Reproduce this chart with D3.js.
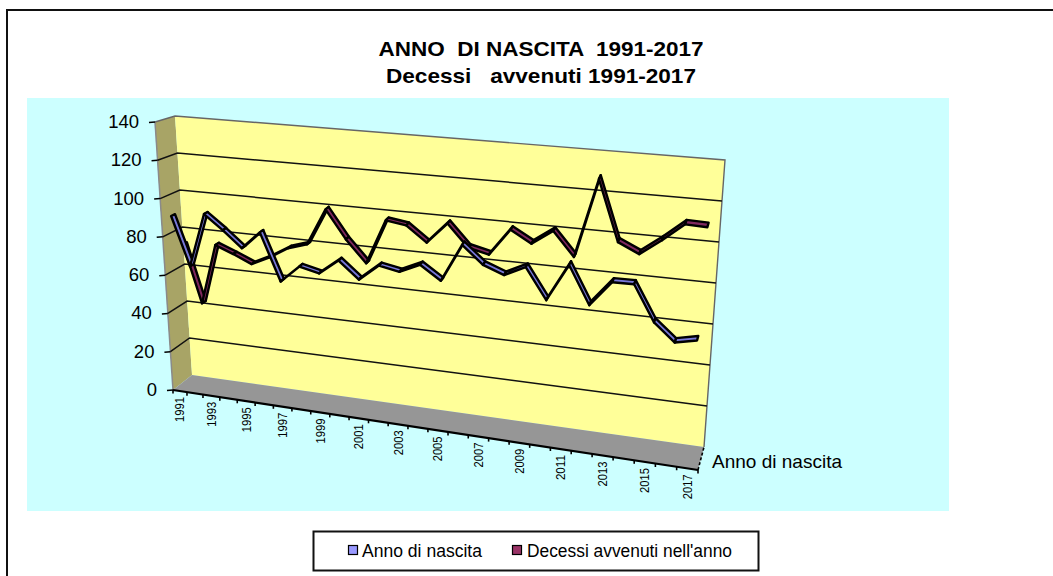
<!DOCTYPE html>
<html>
<head>
<meta charset="utf-8">
<script src="https://cdn.jsdelivr.net/npm/d3@7"></script>
<style>
html,body{margin:0;padding:0;background:#fff;overflow:hidden}
svg{display:block}
text{font-family:"Liberation Sans",Arial,sans-serif;fill:#000;white-space:pre}
</style>
</head>
<body>
<svg id="c" width="1053" height="576"></svg>
<script>
const years = d3.range(1991, 2018);
const yearLabels = years.filter((y, i) => i % 2 === 0);
const valueTicks = [0, 20, 40, 60, 80, 100, 120, 140];
const titleLines = ["ANNO  DI NASCITA  1991-2017", "Decessi   avvenuti 1991-2017"];
const seriesNames = ["Anno di nascita", "Decessi avvenuti nell'anno"];
const depthLabel = "Anno di nascita";
const annoDiNascita = [90.6,65.3,93.7,86.4,78.2,87.6,63.4,72.4,70.1,78.0,69.5,78.0,76.1,81.0,74.2,93.6,84.8,81.0,86.3,71.1,89.9,71.3,84.0,84.3,66.9,58.4,60.8];
const decessiAvvenuti = [73,42.6,74.6,70.9,66.7,71.4,77.3,80.5,99.8,85.3,74.1,97.4,95.9,88.2,99.1,88,85.6,99.3,93.4,101,89.1,129,98.8,94,102,110.9,110.6];

const svg = d3.select("#c");

// perspective box corners of the 3D plot
const box = {
  frontBottom: [[173,390],[698,470]],
  frontTop:    [[155,122],[719,183]],
  backBottom:  [[192,375],[704,447]],
  backTop:     [[175,116],[725,160]]
};
const mix = (a, b, t) => [a[0] + (b[0]-a[0])*t, a[1] + (b[1]-a[1])*t];
const vScale = d3.scaleLinear().domain([0,140]).range([0,1]);
const slot = d3.scaleLinear().domain([-0.5, 26.5]).range([0,1]);
const persp = d3.scalePow().exponent(1.1).domain([0,1]).range([0,1]);
const uOf = i => persp(slot(i));
function project(u, value, depth) {
  const v = vScale(value);
  const fb = mix(box.frontBottom[0], box.frontBottom[1], u);
  const ft = mix(box.frontTop[0], box.frontTop[1], u);
  const bb = mix(box.backBottom[0], box.backBottom[1], u);
  const bt = mix(box.backTop[0], box.backTop[1], u);
  return mix(mix(fb, ft, v), mix(bb, bt, v), depth);
}
const poly = d3.line();
const closed = pts => poly(pts) + "Z";

// frame + background
svg.append("path").attr("d","M7,576V10H1053").attr("fill","none").attr("stroke","#111").attr("stroke-width",2);
svg.append("rect").attr("x",27).attr("y",98).attr("width",922).attr("height",413).attr("fill","#CCFFFF");

// title
svg.selectAll("text.title").data(titleLines).join("text").attr("class","title")
  .attr("x",541).attr("y",(d,i)=>[56,82.5][i]).attr("text-anchor","middle")
  .attr("font-size",21).attr("font-weight","bold")
  .attr("textLength",(d,i)=>[325,310][i]).attr("lengthAdjust","spacingAndGlyphs").text(d=>d);

// walls
const g = svg.append("g");
g.append("path").attr("d",closed([project(0,0,0),project(0,140,0),project(0,140,1),project(0,0,1)]))
  .attr("fill","#A8A466").attr("stroke","none");
g.append("path").attr("d",poly([project(0,0,0),project(0,140,0)])).attr("stroke","#8a8a8a").attr("stroke-width",1.5).attr("fill","none");
g.append("path").attr("d",closed([project(0,0,1),project(1,0,1),project(1,140,1),project(0,140,1)]))
  .attr("fill","#FFFF99").attr("stroke","none");
g.append("path").attr("d",poly([project(0,140,0),project(0,140,1),project(1,140,1),project(1,0,1)]))
  .attr("fill","none").attr("stroke","#666").attr("stroke-width",1.4);
g.append("path").attr("d",closed([project(0,0,0),project(0,0,1),project(1,0,1),project(1,0,0)]))
  .attr("fill","#969696").attr("stroke","none");

// gridlines and value axis
valueTicks.filter(t=>t>0&&t<140).forEach(t=>{
  g.append("path").attr("d",poly([project(0,t,0),project(0,t,1),project(1,t,1)]))
    .attr("fill","none").attr("stroke","#111").attr("stroke-width",1.5);
});
g.append("path").attr("d",poly([project(0,0,0),project(1,0,0)])).attr("stroke","#000").attr("stroke-width",2.2).attr("fill","none");
valueTicks.forEach(t=>{
  const p = project(0,t,0);
  g.append("line").attr("x1",p[0]-6).attr("x2",p[0]).attr("y1",p[1]+0.5).attr("y2",p[1]).attr("stroke","#000").attr("stroke-width",1.5);
  g.append("text").attr("x",p[0]-16).attr("y",p[1]+6).attr("text-anchor","end").attr("font-size",18.5).text(t);
});

// category ticks on floor edge + depth axis
d3.range(0,28).forEach(i=>{
  const p = project(persp(i/27),0,0);
  g.append("line").attr("x1",p[0]).attr("x2",p[0]).attr("y1",p[1]).attr("y2",p[1]+3.5).attr("stroke","#000").attr("stroke-width",1.6);
});
g.append("path").attr("d",poly([project(1,0,0),project(1,0,1)])).attr("stroke","#000").attr("stroke-width",1.6).attr("fill","none").attr("stroke-dasharray","3,2");
years.forEach((y,i)=>{
  if(!yearLabels.includes(y)) return;
  const p = project(uOf(i),0,0);
  g.append("text").attr("font-size",12.5).attr("text-anchor","end")
    .attr("textLength",25).attr("lengthAdjust","spacingAndGlyphs")
    .attr("transform",`translate(${p[0]+4.5},${p[1]+6}) rotate(-90)`).text(y);
});
g.append("text").attr("x",712).attr("y",468).attr("font-size",18.5).attr("textLength",130).attr("lengthAdjust","spacingAndGlyphs").text(depthLabel);

// series ribbons
function ribbon(values, depth, fill) {
  const half = 0.1;
  const s = svg.append("g");
  d3.pairs(values.map((v,i)=>[i,v])).forEach(([a,b])=>{
    const ua=uOf(a[0]), ub=uOf(b[0]);
    s.append("path").attr("d",closed([
      project(ua,a[1],depth-half),project(ub,b[1],depth-half),
      project(ub,b[1],depth+half),project(ua,a[1],depth+half)
    ])).attr("fill",fill).attr("stroke","#000").attr("stroke-width",2.4).attr("stroke-linejoin","round");
  });
}
ribbon(decessiAvvenuti, 0.75, "#80285E");
ribbon(annoDiNascita, 0.25, "#7878D8");

// legend
const leg = svg.append("g");
leg.append("rect").attr("x",313.5).attr("y",531.5).attr("width",445).attr("height",39).attr("fill","#fff").attr("stroke","#111").attr("stroke-width",2);
const colors = ["#9999FF","#993366"], swX=[348,512], txX=[362,527], txW=[120,205];
seriesNames.forEach((n,i)=>{
  leg.append("rect").attr("x",swX[i]+.5).attr("y",545.5).attr("width",9).attr("height",9).attr("fill",colors[i]).attr("stroke","#000").attr("stroke-width",1.2);
  leg.append("text").attr("x",txX[i]).attr("y",557).attr("font-size",17.5).attr("textLength",txW[i]).attr("lengthAdjust","spacingAndGlyphs").text(n);
});
</script>
</body>
</html>
